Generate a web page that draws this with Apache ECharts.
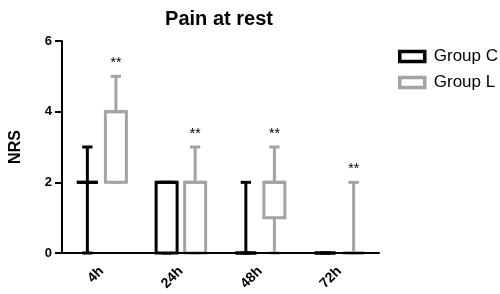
<!DOCTYPE html>
<html>
<head>
<meta charset="utf-8">
<script src="https://cdn.jsdelivr.net/npm/echarts@6/dist/echarts.min.js"></script>
<style>html,body{margin:0;padding:0;background:#fff;}#c{width:500px;height:294px;}</style>
</head>
<body>
<div id="c"></div>
<script>
// Data: [min, Q1, median, Q3, max]
const categories = ['4h', '24h', '48h', '72h'];
const groupC = [[0, 2, 2, 2, 3], [0, 0, 2, 2, 2], [0, 0, 0, 0, 2], [0, 0, 0, 0, 0]];
const groupL = [[2, 2, 4, 4, 5], [0, 0, 2, 2, 3], [0, 1, 2, 2, 3], [0, 0, 0, 0, 2]];
const sigL = ['**', '**', '**', '**'];
const yTicks = [0, 2, 4, 6];

const FONT = 'Liberation Sans';
const BLACK = '#000000';
const GRAY = '#a3a3a3';

function makeRender(color, offsetFrac, sig) {
  return function (params, api) {
    const xi = api.value(0);
    const vmin = api.value(1), q1 = api.value(2), med = api.value(3), q3 = api.value(4), vmax = api.value(5);
    const band = api.size([1, 0])[0];
    const cx = api.coord([xi, 0])[0] + offsetFrac * band;
    const y = v => api.coord([xi, v])[1];
    const w = 0.265 * band;
    const cw = 0.13 * band;
    const st = { stroke: color, lineWidth: 3, fill: null };
    const ch = [];
    ch.push({ type: 'line', shape: { x1: cx, y1: y(vmax), x2: cx, y2: y(q3) }, style: st });
    ch.push({ type: 'line', shape: { x1: cx, y1: y(q1), x2: cx, y2: y(vmin) }, style: st });
    ch.push({ type: 'line', shape: { x1: cx - cw / 2, y1: y(vmax), x2: cx + cw / 2, y2: y(vmax) }, style: st });
    ch.push({ type: 'line', shape: { x1: cx - cw / 2, y1: y(vmin), x2: cx + cw / 2, y2: y(vmin) }, style: st });
    ch.push({ type: 'rect', shape: { x: cx - w / 2, y: y(q3), width: w, height: y(q1) - y(q3) }, style: { stroke: color, lineWidth: 3, fill: '#fff' } });
    ch.push({ type: 'line', shape: { x1: cx - w / 2, y1: y(med), x2: cx + w / 2, y2: y(med) }, style: st });
    if (sig && sig[xi]) {
      ch.push({ type: 'text', style: { text: sig[xi], x: cx, y: y(vmax) - 6, textAlign: 'center', textVerticalAlign: 'bottom', fill: '#000', font: '14px "' + FONT + '"' } });
    }
    return { type: 'group', children: ch };
  };
}

const chart = echarts.init(document.getElementById('c'), null, { renderer: 'canvas' });
chart.setOption({
  animation: false,
  backgroundColor: '#fff',
  title: {
    text: 'Pain at rest', left: 214, top: 4, textAlign: 'center',
    textStyle: { fontFamily: FONT, fontSize: 20, fontWeight: 'bold', color: '#000' }
  },
  legend: {
    orient: 'vertical', left: 393, top: 43, itemWidth: 25, itemHeight: 10, itemGap: 9,
    icon: 'rect',
    textStyle: { fontFamily: FONT, fontSize: 17, color: '#000', padding: [0, 0, 0, 4] },
    data: [
      { name: 'Group C', itemStyle: { color: '#fff', borderColor: BLACK, borderWidth: 3.5 } },
      { name: 'Group L', itemStyle: { color: '#fff', borderColor: GRAY, borderWidth: 3.5 } }
    ]
  },
  grid: { left: 60, right: 121, top: 41, bottom: 41, containLabel: false },
  xAxis: {
    type: 'category', data: categories, boundaryGap: true, z: 5,
    axisLine: { lineStyle: { color: '#000', width: 2 } },
    axisTick: { alignWithLabel: true, length: 6, lineStyle: { color: '#000', width: 2 } },
    axisLabel: { rotate: 45, fontFamily: FONT, fontSize: 14, fontWeight: 'bold', color: '#000', margin: 16 }
  },
  yAxis: {
    type: 'value', min: 0, max: 6, interval: 2, z: 5,
    name: 'NRS', nameLocation: 'middle', nameGap: 38, nameRotate: 90,
    nameTextStyle: { fontFamily: FONT, fontSize: 16, fontWeight: 'bold', color: '#000' },
    axisLine: { show: true, lineStyle: { color: '#000', width: 2 } },
    axisTick: { show: true, length: 7, lineStyle: { color: '#000', width: 2 } },
    splitLine: { show: false },
    axisLabel: {
      fontFamily: FONT, fontSize: 13, fontWeight: 'bold', color: '#000', margin: 10,
      formatter: v => (yTicks.indexOf(v) >= 0 ? String(v) : '')
    }
  },
  series: [
    {
      name: 'Group C', type: 'custom', z: 2, itemStyle: { color: BLACK },
      renderItem: makeRender(BLACK, -0.18, null),
      encode: { x: 0, y: [1, 2, 3, 4, 5] },
      data: groupC.map((d, i) => [i].concat(d))
    },
    {
      name: 'Group L', type: 'custom', z: 2, itemStyle: { color: GRAY },
      renderItem: makeRender(GRAY, 0.18, sigL),
      encode: { x: 0, y: [1, 2, 3, 4, 5] },
      data: groupL.map((d, i) => [i].concat(d))
    }
  ]
});
</script>
</body>
</html>
